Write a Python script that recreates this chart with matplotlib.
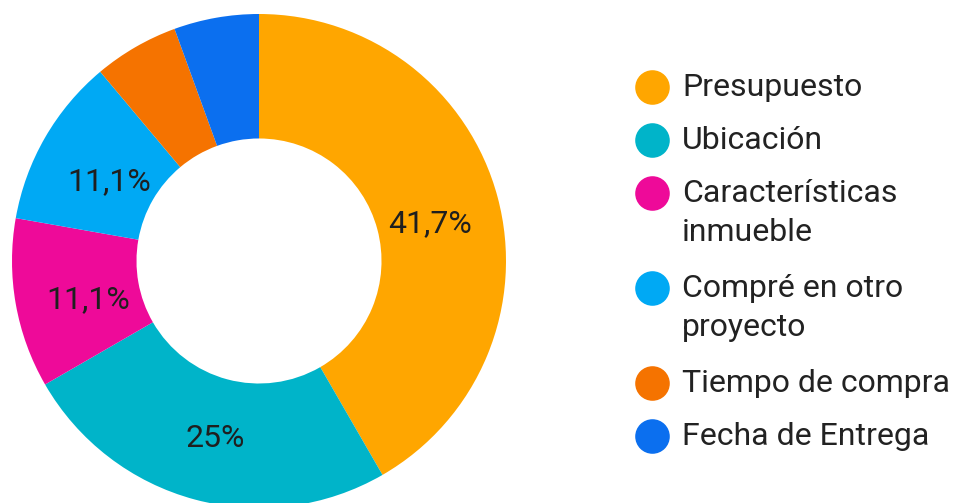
import numpy as np
import matplotlib.pyplot as plt

# motivos de no compra
labels = ['Presupuesto', 'Ubicación', 'Características\ninmueble',
          'Compré en otro\nproyecto', 'Tiempo de compra', 'Fecha de Entrega']
counts = [15, 9, 4, 4, 2, 2]
pct_text = ['41,7%', '25%', '11,1%', '11,1%', '', '']
colors = ['#FFA600', '#00B4C9', '#EE0A99', '#00A9F4', '#F57300', '#0B6FEF']

plt.rcParams['font.family'] = ['Roboto', 'DejaVu Sans']

W, H = 959, 503
fig = plt.figure(figsize=(W / 100, H / 100), dpi=100)
ax = fig.add_axes([0, 0, 1, 1])

cx, cy, r = 259, H - 261, 247
ax.pie(counts, colors=colors, startangle=90, counterclock=False,
       center=(cx, cy), radius=r, frame=True,
       wedgeprops=dict(width=r * 0.504, linewidth=0))
ax.set_xlim(0, W)
ax.set_ylim(0, H)
ax.set_aspect('equal')
ax.axis('off')

# porcentajes dentro del anillo
total = sum(counts)
start = 90.0
for c, t in zip(counts, pct_text):
    span = 360.0 * c / total
    mid = np.deg2rad(start - span / 2)
    start -= span
    if t:
        rr = r * 0.71
        ax.text(cx + rr * np.cos(mid) + 2, cy + rr * np.sin(mid) - 8, t,
                ha='center', va='center', fontsize=23, color='#1f1f1f')

# leyenda a la derecha
y = H - 87
for lab, col in zip(labels, colors):
    ax.scatter([652], [y], s=620, color=col, linewidths=0, zorder=3)
    ax.text(682, y + 14, lab, ha='left', va='top', fontsize=23,
            color='#222222', linespacing=1.42)
    nlines = lab.count('\n') + 1
    y -= 53 + 42 * (nlines - 1)

fig.savefig('out.png', dpi=100)
